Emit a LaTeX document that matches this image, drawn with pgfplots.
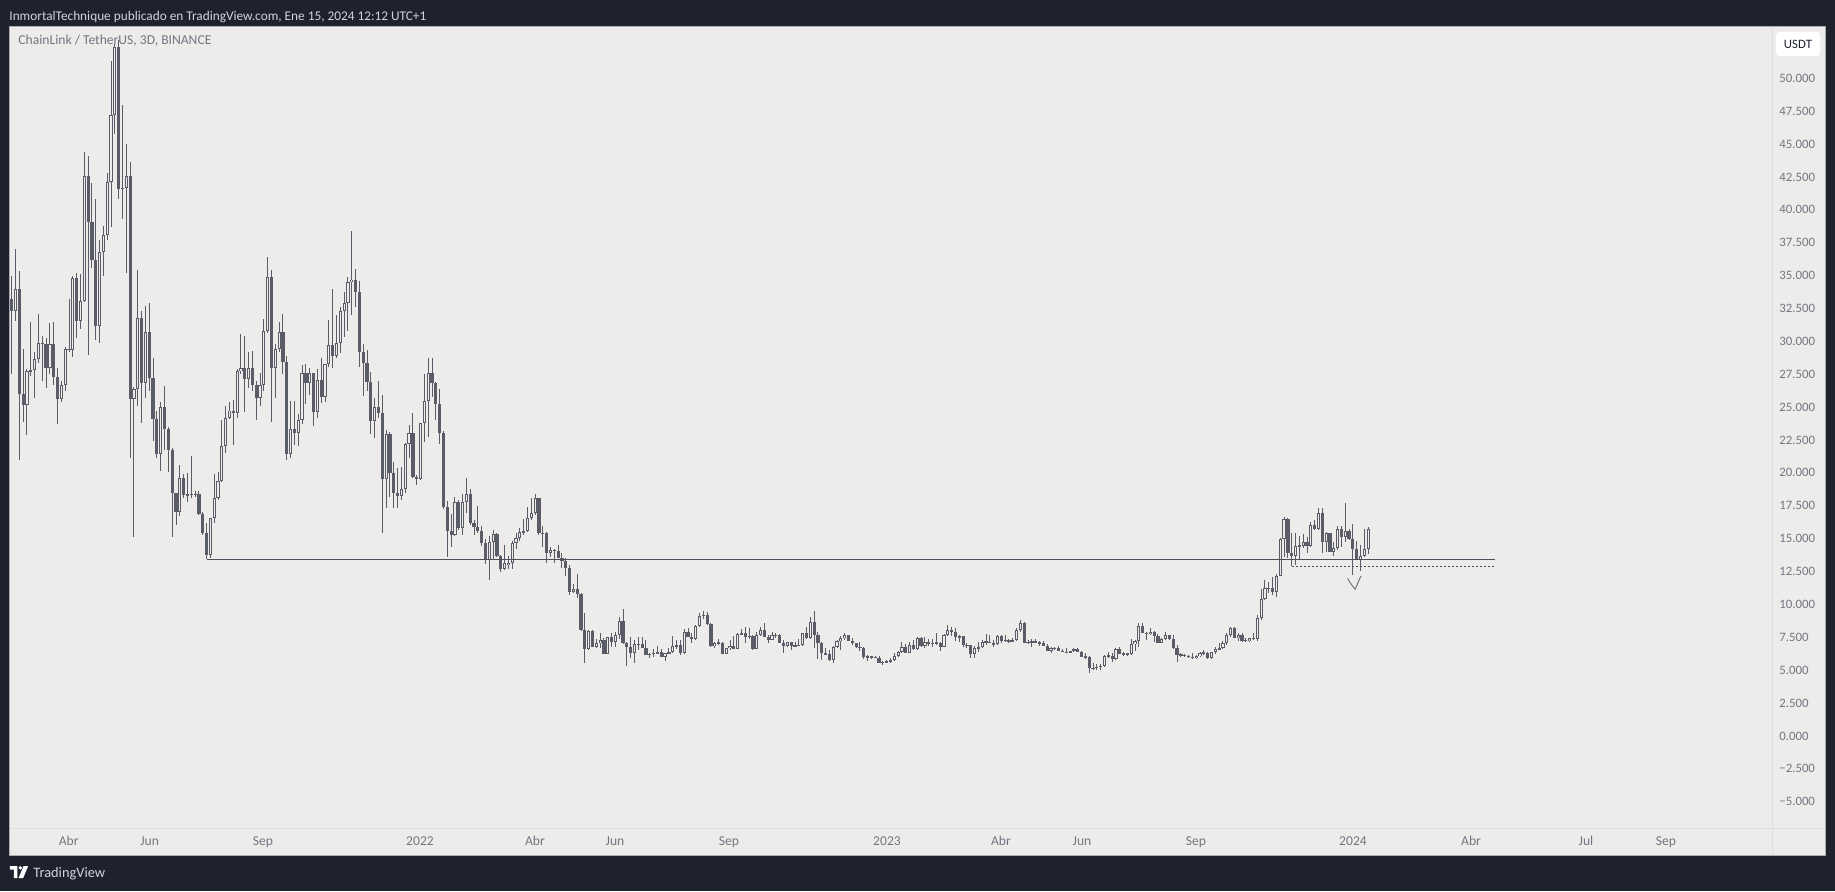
\documentclass[border=0pt]{standalone}
\usepackage{pgfplots}
\pgfplotsset{compat=1.18}
\usepackage{pgfplotstable}
\usepackage{fontspec}
\setmainfont{Carlito}
\pgfdeclarelayer{background}
\pgfsetlayers{background,main}
\definecolor{tvdark}{RGB}{30,34,45}
\definecolor{chartbg}{RGB}{237,236,234}
\definecolor{candle}{RGB}{90,93,104}
\definecolor{axtext}{RGB}{115,118,130}
\definecolor{hdr}{RGB}{209,212,220}
\definecolor{lvl}{RGB}{78,81,92}
\definecolor{sep}{RGB}{224,223,221}
\definecolor{frame}{RGB}{170,172,178}

\pgfplotstableread{
k o h l c
1 33.25 34.95 27.49 32.33
2 32.33 37.05 31.55 33.98
3 33.98 35.34 20.95 25.97
4 25.97 29.45 23.83 25.19
5 25.19 27.9 22.91 27.75
6 27.75 31.47 27.36 27.8
7 27.8 29.19 25.71 28.67
8 28.67 32.07 28.33 29.9
9 29.9 30.37 27.02 29.8
10 29.8 30.24 26.44 27.96
11 27.96 31.4 27.5 29.8
12 29.8 31.47 26.7 27.28
13 27.28 28.0 23.7 25.6
14 25.6 26.96 25.4 26.7
15 26.7 29.6 26.2 29.45
16 29.45 33.25 29.2 29.35
17 29.35 35.0 28.8 34.8
18 34.8 35.2 30.24 31.55
19 31.55 35.1 30.9 33.1
20 33.1 44.4 33.0 42.6
21 42.6 44.1 28.93 39.1
22 39.1 42.0 35.6 36.2
23 36.2 40.8 30.1 31.2
24 31.2 37.7 29.9 36.8
25 36.8 38.8 35.0 38.1
26 38.1 42.8 37.7 42.1
27 42.1 51.3 38.7 47.2
28 47.2 52.6 45.8 52.4
29 52.4 52.9 40.8 41.6
30 41.6 47.96 39.3 41.65
31 41.65 44.98 35.2 42.6
32 42.6 43.6 21.1 25.6
33 25.6 26.5 15.1 26.4
34 26.4 35.4 25.1 31.8
35 31.8 32.3 23.8 26.8
36 26.8 32.7 25.7 30.7
37 30.7 32.9 26.2 27.2
38 27.2 28.7 22.4 24.1
39 24.1 24.7 21.1 21.47
40 21.47 25.4 20.16 25.0
41 25.0 26.6 21.7 23.35
42 23.35 23.5 20.1 21.7
43 21.7 21.86 15.1 18.46
44 18.46 18.5 16.0 17.0
45 17.0 20.63 16.7 19.6
46 19.6 19.9 18.1 18.3
47 18.3 20.0 17.8 18.35
48 18.35 21.3 18.06 18.38
49 18.38 18.6 18.2 18.4
50 18.4 18.6 16.8 16.9
51 16.9 17.0 15.3 15.4
52 15.4 16.15 13.43 13.75
53 13.75 16.6 13.5 16.55
54 16.55 19.95 16.2 18.07
55 18.07 20.03 17.9 19.4
56 19.4 24.0 19.3 22.07
57 22.07 25.1 21.5 24.2
58 24.2 25.4 24.1 24.74
59 24.74 25.53 22.12 24.56
60 24.56 27.9 24.2 27.75
61 27.75 30.55 27.5 27.96
62 27.96 30.37 24.6 27.15
63 27.15 29.2 26.44 28.0
64 28.0 29.3 26.2 26.7
65 26.7 26.96 24.0 25.71
66 25.71 27.6 25.1 26.7
67 26.7 31.7 26.2 30.8
68 30.8 36.4 30.6 34.87
69 34.87 35.4 23.9 28.0
70 28.0 29.8 25.71 29.45
71 29.45 31.47 29.2 30.68
72 30.68 32.1 27.5 28.4
73 28.4 28.85 20.95 21.4
74 21.4 25.5 21.1 23.3
75 23.3 25.5 22.1 23.0
76 23.0 24.5 22.04 24.0
77 24.0 28.2 23.7 27.56
78 27.56 28.3 25.2 26.8
79 26.8 27.94 25.9 27.56
80 27.56 27.6 23.56 24.65
81 24.65 27.87 24.2 27.06
82 27.06 28.7 25.3 25.74
83 25.74 28.27 25.4 28.27
84 28.27 31.6 28.07 29.72
85 29.72 33.97 27.94 28.9
86 28.9 32.0 28.7 29.84
87 29.84 32.6 29.1 32.3
88 32.3 33.77 30.3 32.9
89 32.9 34.86 30.8 34.48
90 34.48 38.4 32.0 34.7
91 34.7 35.5 32.6 33.77
92 33.77 34.6 28.07 29.2
93 29.2 29.8 25.87 28.37
94 28.37 29.34 26.25 26.9
95 26.9 27.67 22.95 23.96
96 23.96 25.66 22.67 25.03
97 25.03 26.98 24.2 24.57
98 24.57 25.9 15.4 19.5
99 19.5 23.26 17.3 22.95
100 22.95 23.13 18.19 19.96
101 19.96 20.85 17.35 18.44
102 18.44 20.4 17.35 18.24
103 18.24 20.47 17.9 18.8
104 18.8 22.29 18.44 22.19
105 22.19 23.64 21.15 23.0
106 23.0 24.52 19.58 19.71
107 19.71 19.83 19.07 19.5
108 19.5 23.76 19.45 23.76
109 23.76 27.5 22.37 25.46
110 25.46 28.7 22.75 27.56
111 27.56 28.7 25.79 26.8
112 26.8 26.9 24.0 25.2
113 25.2 26.35 22.17 23.0
114 23.0 23.2 17.23 17.43
115 17.43 17.86 13.58 15.6
116 15.6 16.87 14.39 15.27
117 15.27 18.14 15.2 17.76
118 17.76 17.93 15.65 15.78
119 15.78 18.39 15.3 17.76
120 17.76 19.6 16.92 18.37
121 18.37 18.77 16.03 16.21
122 16.21 16.41 15.27 15.9
123 15.9 17.48 15.45 15.6
124 15.6 15.96 14.44 14.64
125 14.64 14.94 13.07 13.37
126 13.37 15.2 11.85 14.72
127 14.72 15.65 13.37 15.32
128 15.32 15.4 13.58 13.68
129 13.68 13.75 12.49 12.67
130 12.67 14.52 12.6 13.17
131 13.0 13.68 12.67 13.17
132 13.17 14.84 12.67 14.64
133 14.64 15.4 14.18 15.02
134 15.02 15.83 14.84 15.48
135 15.48 16.46 15.27 15.6
136 15.6 17.38 15.53 16.54
137 16.54 18.06 16.41 16.92
138 16.92 18.39 16.79 18.06
139 18.06 18.1 15.27 15.4
140 15.4 15.96 14.39 15.45
141 15.45 15.5 13.17 13.93
142 13.93 14.39 13.58 14.13
143 14.13 14.2 13.12 14.08
144 14.08 14.52 13.5 13.55
145 13.55 13.88 12.74 13.3
146 13.3 13.5 12.16 12.74
147 12.74 13.0 10.72 10.97
148 10.97 11.55 10.84 11.15
149 11.15 12.31 10.46 10.77
150 10.77 10.84 8.0 8.06
151 8.06 9.37 5.57 6.59
152 6.59 8.06 6.54 8.0
153 8.0 8.06 6.74 6.79
154 6.79 7.4 6.72 7.04
155 7.04 7.85 6.66 7.3
156 7.3 7.42 6.23 6.23
157 6.23 7.55 6.2 7.5
158 7.5 7.8 6.79 7.17
159 7.17 7.88 6.79 7.68
160 7.68 9.02 7.35 8.76
161 8.76 9.63 7.0 7.04
162 7.04 7.17 5.34 6.74
163 6.74 7.5 5.9 6.33
164 6.33 7.3 5.52 6.97
165 6.97 7.55 6.54 6.99
166 6.99 7.5 6.71 6.71
167 6.71 7.3 6.15 6.15
168 6.15 6.33 5.95 6.26
169 6.26 6.59 6.03 6.28
170 6.28 6.84 6.25 6.36
171 6.36 6.59 6.03 6.03
172 6.03 6.33 5.72 6.28
173 6.28 6.66 6.23 6.36
174 6.36 7.6 6.33 6.86
175 6.86 7.3 6.64 6.88
176 6.88 7.3 6.15 6.33
177 6.33 8.11 6.23 7.88
178 7.88 8.18 7.5 7.55
179 7.55 7.8 7.1 7.35
180 7.35 8.44 7.3 8.36
181 8.36 9.32 8.26 9.12
182 9.12 9.52 8.87 9.19
183 9.19 9.42 8.44 8.49
184 8.49 8.56 6.79 6.86
185 6.86 7.17 6.71 7.04
186 7.04 7.35 6.92 7.1
187 7.1 7.17 6.23 6.23
188 6.23 6.71 6.2 6.66
189 6.66 7.3 6.54 6.86
190 6.86 7.6 6.6 6.64
191 6.64 7.8 6.6 7.75
192 7.75 8.13 7.68 7.8
193 7.8 8.31 7.04 7.55
194 7.55 8.18 7.4 7.6
195 7.6 7.65 6.54 6.64
196 6.64 7.88 6.6 7.68
197 7.68 8.31 7.6 8.06
198 8.06 8.56 7.55 7.55
199 7.55 7.68 7.1 7.3
200 7.3 7.93 7.28 7.68
201 7.68 7.8 7.42 7.65
202 7.65 7.75 7.1 7.1
203 7.1 7.3 6.33 6.86
204 6.86 7.17 6.79 7.12
205 7.12 7.15 6.54 6.84
206 6.84 7.12 6.79 6.86
207 6.86 7.35 6.84 6.92
208 6.92 7.85 6.86 7.8
209 7.8 8.31 7.35 7.42
210 7.42 9.02 7.4 8.64
211 8.64 9.52 6.66 7.68
212 7.68 7.93 5.83 7.04
213 7.04 7.17 5.78 6.28
214 6.28 6.66 6.15 6.25
215 6.25 6.54 5.72 5.78
216 5.78 6.84 5.57 6.79
217 6.79 7.3 6.66 7.2
218 7.2 7.6 6.54 7.42
219 7.42 7.85 7.3 7.68
220 7.68 7.7 7.2 7.25
221 7.25 7.42 6.92 7.04
222 7.04 7.1 6.71 6.74
223 6.74 7.11 6.48 6.71
224 6.71 6.78 5.82 6.02
225 6.02 6.12 5.72 6.05
226 6.05 6.07 5.87 6.02
227 6.02 6.07 5.95 5.95
228 5.95 6.07 5.57 5.57
229 5.57 5.72 5.41 5.62
230 5.62 5.77 5.57 5.64
231 5.64 5.92 5.57 5.77
232 5.77 6.33 5.72 6.07
233 6.07 6.48 6.02 6.38
234 6.38 7.16 6.33 6.78
235 6.78 6.99 6.33 6.33
236 6.33 7.16 6.33 6.91
237 6.91 7.29 6.53 6.6
238 6.6 7.54 6.53 7.47
239 7.47 7.49 6.78 6.83
240 6.83 7.54 6.71 7.14
241 7.14 7.34 6.83 6.98
242 6.98 7.34 6.78 7.09
243 7.09 7.85 6.88 7.04
244 7.04 7.14 6.48 6.78
245 6.78 7.72 6.78 7.67
246 7.67 8.43 7.59 8.05
247 8.05 8.25 7.59 7.92
248 7.92 8.18 7.24 7.49
249 7.49 7.65 7.14 7.57
250 7.57 7.6 6.73 6.88
251 6.88 7.09 6.71 6.9
252 6.9 6.91 5.95 6.2
253 6.2 6.83 5.95 6.71
254 6.71 7.16 6.4 6.73
255 6.73 7.29 6.66 7.14
256 7.14 7.75 6.91 7.17
257 7.17 7.67 7.04 7.04
258 7.04 7.29 6.78 6.96
259 6.96 7.64 6.91 7.59
260 7.59 7.67 7.09 7.24
261 7.24 7.67 7.16 7.27
262 7.27 7.34 7.09 7.2
263 7.2 7.42 7.14 7.29
264 7.29 8.18 7.24 8.05
265 8.05 8.81 7.92 8.56
266 8.56 8.68 7.09 7.09
267 7.09 7.29 6.96 7.14
268 7.14 7.34 6.78 7.21
269 7.21 7.34 7.04 7.09
270 7.09 7.24 6.83 7.04
271 7.04 7.21 6.83 6.86
272 6.86 6.96 6.48 6.48
273 6.48 6.78 6.28 6.66
274 6.66 6.78 6.53 6.68
275 6.68 6.83 6.48 6.48
276 6.48 6.58 6.4 6.4
277 6.4 6.66 6.28 6.33
278 6.33 6.48 6.28 6.45
279 6.45 6.66 6.4 6.6
280 6.6 6.66 6.4 6.4
281 6.4 6.48 5.97 6.02
282 6.02 6.28 5.82 6.03
283 6.03 6.07 4.8 5.13
284 5.13 5.52 5.01 5.18
285 5.18 5.46 5.01 5.26
286 5.26 5.46 5.01 5.31
287 5.31 6.12 5.26 6.07
288 6.07 6.38 5.9 6.08
289 6.08 6.28 5.64 5.82
290 5.82 6.66 5.77 6.58
291 6.58 6.73 6.23 6.23
292 6.23 6.4 6.07 6.28
293 6.28 6.3 6.07 6.23
294 6.23 7.34 6.15 6.96
295 6.96 7.29 6.48 7.21
296 7.21 8.56 6.78 8.35
297 8.35 8.56 7.8 7.85
298 7.85 7.92 7.29 7.74
299 7.74 8.18 7.67 7.92
300 7.92 7.95 7.16 7.59
301 7.59 7.74 7.09 7.09
302 7.09 7.42 7.04 7.34
303 7.34 7.92 7.29 7.67
304 7.67 7.7 7.29 7.34
305 7.34 7.67 6.58 6.66
306 6.66 6.91 5.64 6.15
307 6.15 6.33 5.98 6.16
308 6.16 6.23 5.98 6.08
309 6.08 6.16 5.9 6.03
310 6.03 6.33 5.83 5.9
311 5.9 6.16 5.83 6.08
312 6.08 6.41 5.98 6.28
313 6.28 6.54 6.16 6.33
314 6.33 6.35 5.83 5.9
315 5.9 6.41 5.83 6.38
316 6.38 6.79 6.23 6.61
317 6.61 7.09 6.54 6.66
318 6.66 7.25 6.61 7.04
319 7.04 7.8 6.92 7.68
320 7.68 8.31 7.55 8.18
321 8.18 8.31 7.42 7.42
322 7.42 7.85 7.25 7.68
323 7.68 7.85 7.17 7.22
324 7.3 7.42 7.17 7.22
325 7.22 7.47 7.17 7.42
326 7.42 7.8 7.3 7.4
327 7.4 9.2 7.25 8.94
328 8.94 11.15 8.82 10.39
329 10.39 11.86 10.34 11.22
330 11.22 11.73 10.84 11.25
331 11.25 12.11 10.72 10.97
332 10.97 12.29 10.59 12.19
333 12.19 15.03 12.16 14.95
334 14.95 16.67 13.63 16.47
335 16.47 16.55 13.5 13.94
336 13.94 15.4 12.89 13.68
337 13.68 15.4 13.0 14.44
338 14.44 15.2 13.38 14.45
339 14.45 15.35 14.27 14.77
340 14.77 15.1 13.88 14.44
341 14.44 16.29 14.34 16.01
342 16.01 16.42 15.66 15.71
343 15.71 17.31 15.66 16.93
344 16.93 17.31 13.88 14.77
345 14.77 15.53 14.01 15.4
346 15.4 15.46 14.01 14.01
347 14.01 14.77 13.68 14.27
348 14.27 15.96 14.14 15.71
349 15.71 15.96 14.39 15.1
350 15.1 17.74 14.77 15.58
351 15.58 15.71 14.9 14.95
352 14.95 16.11 12.24 14.19
353 14.19 14.85 13.38 13.43
354 13.43 14.52 12.57 13.68
355 13.68 15.71 13.63 14.19
356 14.19 15.86 13.83 15.71
}\candles

\begin{document}
\begin{tikzpicture}[x=0.5pt,y=0.5pt]
\begin{axis}[
  width=881pt, height=400.5pt, scale only axis,
  xmin=0.555, xmax=461.7, ymin=-7.002, ymax=53.897,
  axis line style={draw=none},
  tick style={draw=none}, major tick length=0pt,
  ytick={-5,-2.5,0,2.5,5,7.5,10,12.5,15,17.5,20,22.5,25,27.5,30,32.5,35,37.5,40,42.5,45,47.5,50},
  yticklabels={−5.000,−2.500,0.000,2.500,5.000,7.500,10.000,12.500,15.000,17.500,20.000,22.500,25.000,27.500,30.000,32.500,35.000,37.500,40.000,42.500,45.000,47.500,50.000},
  yticklabel pos=right,
  yticklabel style={anchor=west, inner sep=0pt, xshift=3.5pt, text=axtext, font=\fontsize{6.4}{8}\selectfont},
  xtick={15.92,37.09,66.77,107.86,137.95,158.89,188.73,230.08,259.91,281.11,310.94,352.04,382.92,413.02,433.96},
  xticklabels={Abr,Jun,Sep,2022,Abr,Jun,Sep,2023,Abr,Jun,Sep,2024,Abr,Jul,Sep},
  xticklabel style={anchor=base, inner sep=0pt, yshift=-8.5pt, text=axtext, font=\fontsize{6.8}{8}\selectfont},
]
\coordinate (P) at (rel axis cs:0,0);
% wicks
\addplot[draw=none, mark=none, forget plot,
  error bars/.cd, y dir=both, y explicit, error mark=none,
  error bar style={draw=candle, line width=0.5pt}]
  table[x=k, y expr=(\thisrow{h}+\thisrow{l})/2, y error expr=(\thisrow{h}-\thisrow{l})/2] {\candles};
% bodies
\addplot[draw=none, mark=none, forget plot,
  error bars/.cd, y dir=both, y explicit, error mark=none,
  error bar style={draw=candle, line width=1.6pt}]
  table[x=k, y expr=(\thisrow{o}+\thisrow{c})/2, y error expr={max(abs(\thisrow{c}-\thisrow{o})/2,0.04)}] {\candles};
% hollow interior of rising candles
\addplot[draw=none, mark=none, forget plot,
  error bars/.cd, y dir=both, y explicit, error mark=none,
  error bar style={draw=chartbg, line width=0.6pt}]
  table[x=k, y expr=(\thisrow{o}+\thisrow{c})/2, y error expr={ifthenelse(\thisrow{c}>\thisrow{o}, max((\thisrow{c}-\thisrow{o})/2-0.075,0), 0)}] {\candles};
% support levels
\addplot[lvl, line width=0.55pt, mark=none, forget plot] coordinates {(52,13.43) (389.2,13.43)};
\addplot[lvl, line width=0.55pt, mark=none, dash pattern=on 1.2pt off 0.8pt, forget plot] coordinates {(336,12.89) (389.2,12.89)};
% check mark
\addplot[axtext, line width=0.5pt, mark=none, forget plot] coordinates {(350.6,11.98) (351.6,11.52) (352.6,11.15) (354.1,12.16)};
\end{axis}

% everything else in pixel units relative to the plot area's lower left corner (x-10, 828-y)
\begin{scope}[shift={(P)}]
\begin{pgfonlayer}{background}
\fill[tvdark] (-10,-63) rectangle (1825,828);
\fill[chartbg] (0,-27) rectangle (1815,801);
\draw[sep, line width=0.5pt] (1762,-27) -- (1762,801);
\draw[sep, line width=0.5pt] (0,0) -- (1815,0);
\draw[frame, line width=0.5pt] (0,-27) rectangle (1815,801);
\end{pgfonlayer}

\node[anchor=base west, inner sep=0pt, text=hdr, font=\fontsize{6.65}{8}\selectfont] at (-1,807)
  {InmortalTechnique publicado en TradingView.com, Ene 15, 2024 12:12 UTC+1};
\node[anchor=base west, inner sep=0pt, text=axtext, font=\fontsize{6.8}{8}\selectfont] at (8,783)
  {ChainLink / TetherUS, 3D, BINANCE};

\fill[white, rounded corners=1.5pt] (1766,772) rectangle (1810,796);
\node[inner sep=0pt, text=tvdark, font=\fontsize{6.4}{8}\selectfont] at (1788,784) {USDT};

% TradingView logo
\fill[white] (0,-38) -- (7.5,-38) -- (7.5,-50) -- (4,-50) -- (4,-41.5) -- (0,-41.5) -- cycle;
\fill[white] (10.4,-39.9) circle (1.9);
\fill[white] (13.6,-38) -- (18.2,-38) -- (13.2,-50) -- (8.6,-50) -- cycle;
\node[anchor=base west, inner sep=0pt, text=hdr, font=\fontsize{7.2}{8}\selectfont] at (23,-49) {TradingView};

\pgfresetboundingbox
\path[use as bounding box] (-10,-63) rectangle (1825,828);
\end{scope}
\end{tikzpicture}
\end{document}
